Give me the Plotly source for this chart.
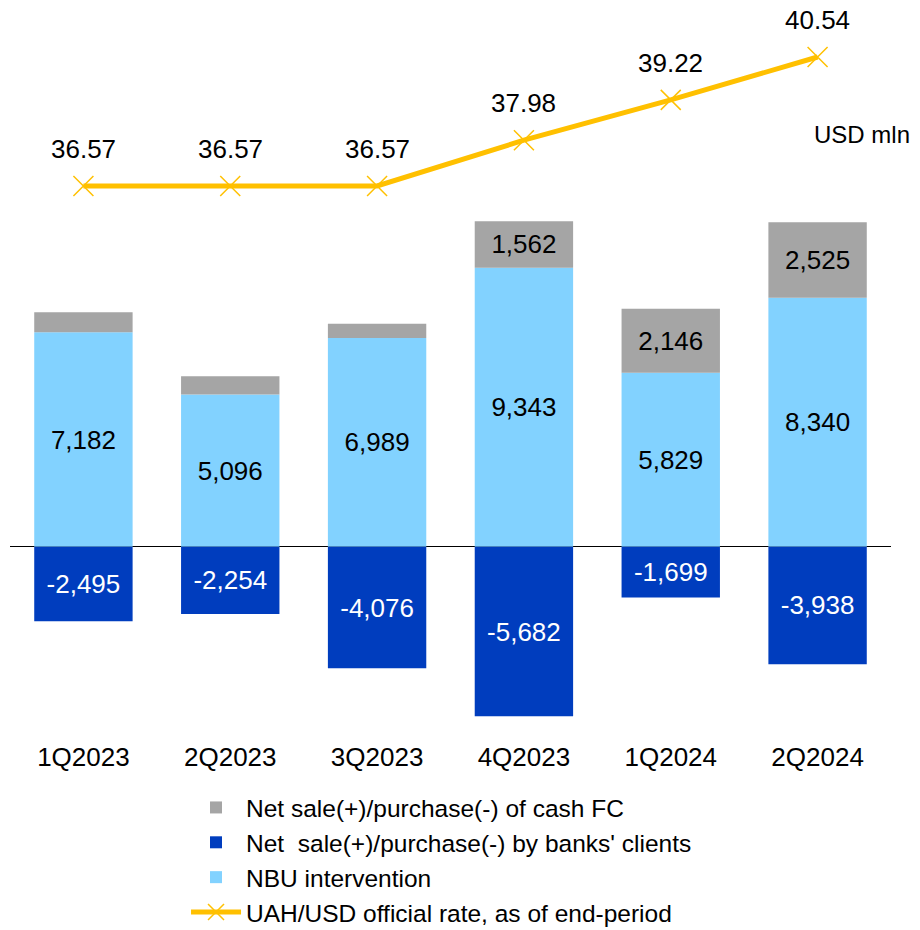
"""FX market: NBU intervention, banks' clients and cash FC, with UAH/USD rate."""

import plotly.graph_objects as go

quarters = ["1Q2023", "2Q2023", "3Q2023", "4Q2023", "1Q2024", "2Q2024"]
nbu_intervention = [7182, 5096, 6989, 9343, 5829, 8340]
cash_fc = [670, 615, 480, 1562, 2146, 2525]
banks_clients = [-2495, -2254, -4076, -5682, -1699, -3938]
uah_usd_rate = [36.57, 36.57, 36.57, 37.98, 39.22, 40.54]

FONT = "Liberation Sans, Arial, sans-serif"
GRAY = "#a5a5a5"
LIGHT = "#82d2ff"
DARK = "#003dbe"
GOLD = "#ffc000"


def fmt(v):
    return f"{v:,}"


fig = go.Figure()
fig.add_trace(go.Bar(
    name="NBU intervention",
    x=quarters, y=nbu_intervention,
    marker=dict(color=LIGHT, line=dict(width=0)),
    text=[fmt(v) for v in nbu_intervention],
    textposition="inside", insidetextanchor="middle", textangle=0,
    textfont=dict(size=26, color="black"),
    legendrank=3,
))
fig.add_trace(go.Bar(
    name="Net sale(+)/purchase(-) of cash FC",
    x=quarters, y=cash_fc,
    marker=dict(color=GRAY, line=dict(width=0)),
    # small early values are not labelled in the original
    text=[fmt(v) if v > 1000 else "" for v in cash_fc],
    textposition="inside", insidetextanchor="middle", textangle=0,
    textfont=dict(size=26, color="black"),
    legendrank=1,
))
fig.add_trace(go.Bar(
    name="Net  sale(+)/purchase(-) by banks' clients",
    x=quarters, y=banks_clients,
    marker=dict(color=DARK, line=dict(width=0)),
    text=[fmt(v) for v in banks_clients],
    textposition="inside", insidetextanchor="middle", textangle=0,
    textfont=dict(size=26, color="white"),
    legendrank=2,
))
fig.add_trace(go.Scatter(
    name="UAH/USD official rate, as of end-period",
    x=quarters, y=uah_usd_rate,
    yaxis="y2",
    mode="lines+markers",
    line=dict(color=GOLD, width=5),
    marker=dict(symbol="x-thin", size=20, color=GOLD, line=dict(color=GOLD, width=1.5)),
    legendrank=4,
))

for q, r in zip(quarters, uah_usd_rate):
    fig.add_annotation(
        x=q, y=r, yref="y2", text=f"{r:.2f}", showarrow=False,
        yshift=37, font=dict(size=26, color="black", family=FONT),
    )

fig.add_annotation(
    x=1.0238, xref="paper", xanchor="right", y=0.8276, yref="paper", yanchor="middle",
    text="USD mln", showarrow=False, font=dict(size=24, color="black", family=FONT),
)

# the page places the plot 8px in from the top-left corner, so size it to fit
fig.update_layout(
    width=912, height=922,
    barmode="relative", bargap=0.33,
    plot_bgcolor="white", paper_bgcolor="white",
    font=dict(family=FONT, size=24, color="black"),
    margin=dict(l=2, r=29, t=2, b=195, autoexpand=False),
    xaxis=dict(showgrid=False, showline=False, ticks="", ticklabelstandoff=4,
               tickfont=dict(size=26)),
    yaxis=dict(range=[-6308, 17979], visible=True, showgrid=False, showticklabels=False,
               zeroline=True, zerolinecolor="black", zerolinewidth=1.2),
    yaxis2=dict(range=[19.673, 41.987], overlaying="y", side="right", visible=False),
    legend=dict(x=0.1998, xanchor="left", y=-0.069, yanchor="top",
                font=dict(size=24.5), tracegroupgap=0, itemwidth=50),
    showlegend=True,
    hovermode=False,
)

fig.write_html("out.html")
